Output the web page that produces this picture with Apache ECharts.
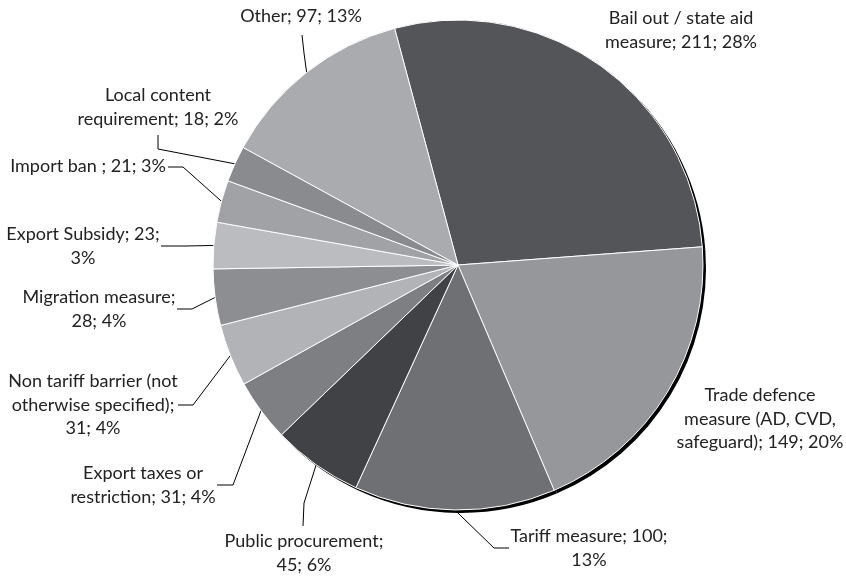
<!DOCTYPE html>
<html>
<head>
<meta charset="utf-8">
<script src="https://cdn.jsdelivr.net/npm/echarts@6/dist/echarts.min.js"></script>
<style>
  html, body { margin: 0; padding: 0; background: #fff; }
  #chart { width: 846px; height: 576px; }
</style>
</head>
<body>
<div id="chart"></div>
<script>
// Measures by type: count of measures per category
const categories = [
  'Bail out / state aid measure',
  'Trade defence measure (AD, CVD, safeguard)',
  'Tariff measure',
  'Public procurement',
  'Export taxes or restriction',
  'Non tariff barrier (not otherwise specified)',
  'Migration measure',
  'Export Subsidy',
  'Import ban ',
  'Local content requirement',
  'Other'
];
const counts = [211, 149, 100, 45, 31, 31, 28, 23, 21, 18, 97];
const sliceColors = [
  '#545559', '#96979b', '#6f7074', '#414246', '#7e7f83', '#b2b3b6',
  '#8d8e92', '#bbbcbf', '#a1a2a6', '#8a8b8f', '#aaabaf'
];

// Label placement: block centre, words per line, and leader-line bends (pixels)
const labelPlacement = [
  { x: 681, y: 30,  words: [5, 3] },
  { x: 760, y: 419, words: [2, 3, 3] },
  { x: 589, y: 548, words: [3, 1], line: [[494, 548], [509, 548]] },
  { x: 304, y: 553, words: [2, 2], line: [[304, 503], [303, 526]] },
  { x: 143, y: 485, words: [3, 3], line: [[233, 485], [217, 485]] },
  { x: 93,  y: 405, words: [4, 2, 2], line: [[193, 405], [178, 405]] },
  { x: 99,  y: 309, words: [2, 2], line: [[192, 309], [177, 309]] },
  { x: 83,  y: 246, words: [3, 1], line: [[185, 246], [161, 246]] },
  { x: 88,  y: 166, words: [5], line: [[183, 167], [168, 167]] },
  { x: 158, y: 107, words: [2, 3], line: [[158, 149], [158, 135]] },
  { x: 301, y: 16,  words: [3], line: [[304, 53], [302, 35]] }
];

const total = counts.reduce((a, b) => a + b, 0);

// "name; count; pct%" wrapped onto lines by word counts
function labelText(i) {
  const pct = Math.round(counts[i] / total * 100);
  const words = (categories[i] + '; ' + counts[i] + '; ' + pct + '%').split(' ');
  const lines = [];
  let k = 0;
  labelPlacement[i].words.forEach(n => {
    lines.push(words.slice(k, k + n).join(' '));
    k += n;
  });
  return lines.join('\n');
}

const CENTER = [458, 265];
const RADIUS = 245;
const START = 105;

const chart = echarts.init(document.getElementById('chart'), null, { renderer: 'canvas' });

chart.setOption({
  backgroundColor: '#ffffff',
  animation: false,
  series: [
    {
      // dark rim below the pie, offset down-right
      type: 'pie',
      name: 'rim',
      silent: true,
      z: 0,
      center: [CENTER[0] + 3, CENTER[1] + 3],
      radius: RADIUS,
      startAngle: START,
      clockwise: true,
      label: { show: false },
      labelLine: { show: false },
      emphasis: { disabled: true },
      itemStyle: { color: '#000000', borderWidth: 0 },
      data: counts.map((v, i) => ({ name: 'rim' + i, value: v }))
    },
    {
      type: 'pie',
      name: 'measures',
      z: 2,
      center: CENTER,
      radius: RADIUS,
      startAngle: START,
      clockwise: true,
      avoidLabelOverlap: false,
      itemStyle: { borderColor: '#ffffff', borderWidth: 1 },
      label: {
        show: true,
        position: 'outside',
        formatter: p => labelText(p.dataIndex),
        fontFamily: 'Lato, "Open Sans", sans-serif',
        fontSize: 18,
        lineHeight: 23.5,
        color: '#222222',
        align: 'center'
      },
      labelLine: {
        show: true,
        length: 10,
        length2: 10,
        lineStyle: { color: '#000', width: 1 }
      },
      labelLayout: function (params) {
        const L = labelPlacement[params.dataIndex];
        const res = { x: L.x, y: L.y, align: 'center', verticalAlign: 'middle' };
        if (L.line && params.labelLinePoints) {
          res.labelLinePoints = [params.labelLinePoints[0]].concat(L.line);
        }
        return res;
      },
      data: counts.map((v, i) => ({
        name: categories[i],
        value: v,
        itemStyle: { color: sliceColors[i] },
        labelLine: { show: !!labelPlacement[i].line }
      }))
    }
  ]
});
</script>
</body>
</html>
